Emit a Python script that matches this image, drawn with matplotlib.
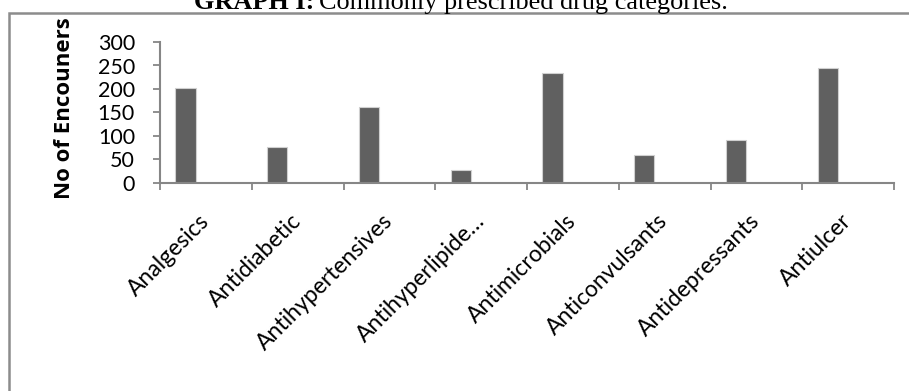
import matplotlib.pyplot as plt
from matplotlib.patches import Rectangle

categories = [
    "Analgesics",
    "Antidiabetic",
    "Antihypertensives",
    "Antihyperlipide…",
    "Antimicrobials",
    "Anticonvulsants",
    "Antidepressants",
    "Antiulcer",
]
encounters = [203, 77, 162, 27, 233, 59, 91, 245]
y_ticks = [0, 50, 100, 150, 200, 250, 300]

W, H = 909, 391
fig = plt.figure(figsize=(W / 100, H / 100), dpi=100)

# plot area in pixels: x 160..894, y 42..183
ax = fig.add_axes([160 / W, 1 - 183 / H, 734 / W, 141 / H])

# excel clustered layout: 3 series slots, only the first has data
slot = 1 / 4.5
xs = [i - 0.5 + 0.75 * slot + slot / 2 for i in range(len(categories))]
ax.bar(xs, encounters, width=slot, color="#606060", edgecolor="#d0d0d0",
       linewidth=0.8, zorder=2)

ax.set_xlim(-0.5, len(categories) - 0.5)
ax.set_ylim(0, 300)
ax.set_yticks(y_ticks)
ax.set_yticklabels([str(v) for v in y_ticks], fontsize=15.5, family="Lato")
ax.set_xticks(range(len(categories)))
ax.set_xticklabels(categories, rotation=45, ha="right", va="center",
                   rotation_mode="anchor", fontsize=16.5, family="Lato")
ax.set_xticks([i - 0.5 for i in range(len(categories) + 1)], minor=True)
ax.tick_params(axis="x", which="major", length=0, pad=25)
ax.tick_params(axis="x", which="minor", length=5, width=1.3, color="#868686",
               direction="out")
ax.tick_params(axis="y", length=5, width=1.3, color="#868686", direction="out",
               pad=13)

for side in ("top", "right"):
    ax.spines[side].set_visible(False)
for side in ("left", "bottom"):
    ax.spines[side].set_color("#868686")
    ax.spines[side].set_linewidth(1.5)

fig.text(65 / W, 1 - 108 / H, "No of Encouners", fontsize=16,
         fontweight="bold", family="Open Sans", rotation=90,
         ha="center", va="center")

# outer frame, cut off on the right and bottom
fig.patches.append(Rectangle((9 / W, -0.1), 1.2, 1 - 12.5 / H + 0.1,
                             transform=fig.transFigure, fill=False,
                             edgecolor="#8c8c8c", linewidth=1.8))

# title, top half cropped away as in the source scan
t1 = fig.text(194 / W, 1 - 9 / H, "GRAPH I:", family="Liberation Serif",
              fontweight="bold", fontsize=18.9, va="baseline", ha="left")
fig.canvas.draw()
bb = t1.get_window_extent()
fig.text((bb.x1 + 5) / W, 1 - 9 / H, "Commonly prescribed drug categories.",
         family="Liberation Serif", fontsize=18.9, va="baseline", ha="left")

fig.savefig("out.png", dpi=100)
